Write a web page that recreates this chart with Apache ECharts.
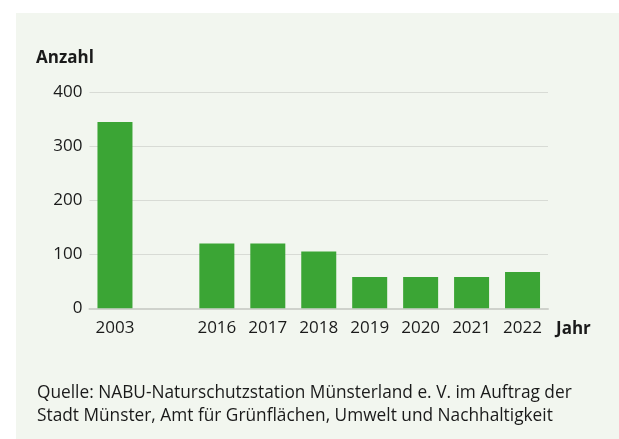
<!DOCTYPE html>
<html><head><meta charset="utf-8">
<script src="https://cdn.jsdelivr.net/npm/echarts@6/dist/echarts.min.js"></script>
<style>html,body{margin:0;padding:0;background:#fff}#c{width:619px;height:439px}</style>
</head><body><div id="c"></div>
<script>
const categories = ['2003', '', '2016', '2017', '2018', '2019', '2020', '2021', '2022'];
const counts = [345, null, 120, 120, 105, 58, 58, 58, 67];
const yTicks = [0, 100, 200, 300, 400];
const yLabel = 'Anzahl';
const xLabel = 'Jahr';
const sourceLines = [
  'Quelle: NABU-Naturschutzstation Münsterland e. V. im Auftrag der',
  'Stadt Münster, Amt für Grünflächen, Umwelt und Nachhaltigkeit'
];
const FONT = '"Open Sans", sans-serif';
const chart = echarts.init(document.getElementById('c'), null, {renderer: 'canvas'});
chart.setOption({
  backgroundColor: '#ffffff',
  animation: false,
  graphic: [
    {type: 'rect', z: -10, silent: true, shape: {x: 16, y: 13, width: 603, height: 426}, style: {fill: '#f2f6ef'}},
    {type: 'text', left: 37, top: 381, style: {text: sourceLines.join('\n'), font: '17.3px ' + FONT, fill: '#1a1a1a', lineHeight: 23.5}}
  ],
  title: {text: yLabel, left: 31, top: 45, textStyle: {fontFamily: FONT, fontSize: 17, fontWeight: 'bold', color: '#1a1a1a'}},
  grid: {left: 89.5, right: 71, top: 92.3, bottom: 130.7, containLabel: false},
  xAxis: {
    type: 'category', data: categories,
    name: xLabel, nameLocation: 'end', nameGap: 8,
    nameTextStyle: {fontFamily: FONT, fontSize: 17, fontWeight: 'bold', color: '#1a1a1a', verticalAlign: 'top', padding: [12, 0, 0, 0]},
    axisLine: {lineStyle: {color: '#cfd2cc', width: 2}},
    axisTick: {show: false},
    axisLabel: {fontFamily: FONT, fontSize: 17, color: '#1a1a1a', margin: 11, interval: 0}
  },
  yAxis: {
    type: 'value', min: 0, max: 400, interval: 100,
    axisLine: {show: false}, axisTick: {show: false},
    splitLine: {lineStyle: {color: '#d8dbd5', width: 1}},
    axisLabel: {fontFamily: FONT, fontSize: 17, color: '#1a1a1a', margin: 7,
      formatter: v => yTicks.includes(v) ? String(v) : ''}
  },
  series: [{
    type: 'bar', data: counts, barWidth: 35,
    itemStyle: {color: '#3ba535'}
  }]
});
</script></body></html>
